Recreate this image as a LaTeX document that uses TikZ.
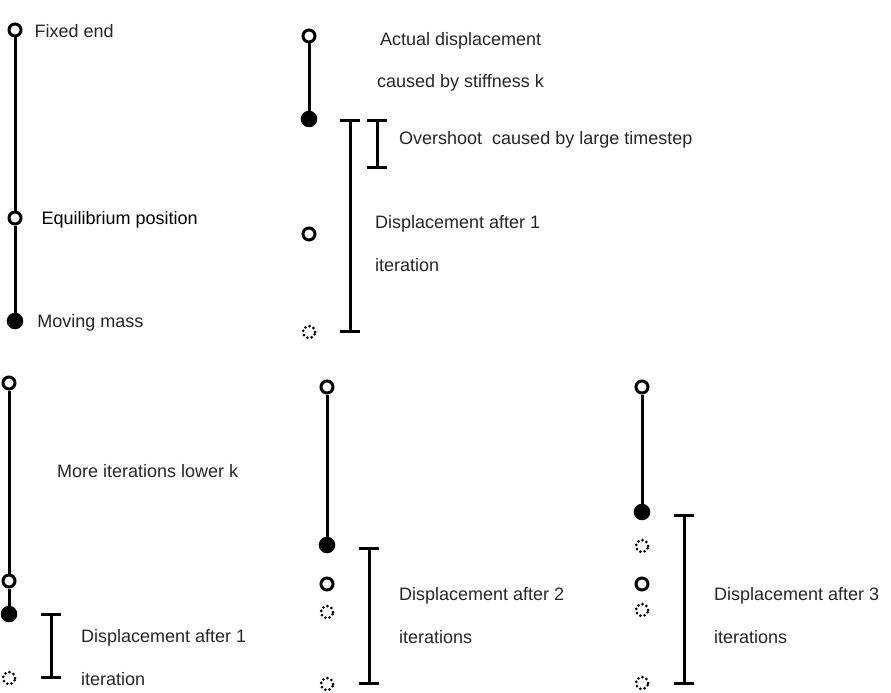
\documentclass[tikz,border=0pt]{standalone}
\usepackage{fontspec}
\setmainfont{Liberation Sans}
\usetikzlibrary{positioning,arrows.meta}

\begin{document}
\begin{tikzpicture}[
  x=1pt,y=-1pt,
  every node/.style={font=\fontsize{18}{22}\selectfont},
  ring/.style={draw,circle,line width=3pt,fill=white,minimum size=12pt,inner sep=0pt},
  mass/.style={draw,circle,fill=black,line width=1pt,minimum size=15.5pt,inner sep=0pt},
  ghost/.style={draw,circle,line width=3pt,dash pattern=on 0pt off 4.4pt,line cap=round,minimum size=12pt,inner sep=0pt},
  rod/.style={line width=3pt},
  span/.style={line width=3pt,{Bar[width=20pt]}-{Bar[width=20pt]}},
  lbl/.style={anchor=west,inner sep=0pt,yshift=-1.5pt,text=black!85}
]
\useasboundingbox (0,0) rectangle (891,693);
% spring at rest
\node[ring] (fixA) at (15,30) {};
\node[ring] (eqA) at (15,218) {};
\node[mass] (massA) at (15,321) {};
\draw[rod] (fixA)--(eqA);
\draw[rod] (eqA)--(massA);
\node[lbl,right=12pt of fixA] (fixAtxt) {Fixed end};
\node[lbl,right=19pt of eqA,text=black] (eqAtxt) {Equilibrium position};
\node[lbl,right=14pt of massA] (massAtxt) {Moving mass};
% one large step
\node[ring] (fixB) at (309,36) {};
\node[mass] (massB) at (309,119) {};
\node[ring] (eqB) at (309,234) {};
\node[ghost] (ghostB) at (309,332) {};
\draw[rod] (fixB)--(massB);
\coordinate (spBtop) at (350,119);
\coordinate (spBbot) at (350,333);
\draw[span] (spBtop)--(spBbot);
\coordinate (ovBtop) at (377,119);
\coordinate (ovBbot) at (377,169);
\draw[span] (ovBtop)--(ovBbot);
\node[lbl] (actB1) at (380,39) {Actual displacement};
\node[lbl] (actB2) at (377,81) {caused by stiffness k};
\node[lbl] (ovBtxt) at (399,138) {Overshoot\ \ caused by large timestep};
\node[lbl] (dispB1) at (375,222) {Displacement after 1};
\node[lbl] (dispB2) at (375,264) {iteration};
% lower k, iteration 1
\node[ring] (fixC) at (9,383) {};
\node[ring] (eqC) at (9,581) {};
\node[mass] (massC) at (9,614) {};
\node[ghost] (ghostC) at (9,678) {};
\draw[rod] (fixC)--(eqC);
\draw[rod] (eqC)--(massC);
\coordinate (spCtop) at (51,613);
\coordinate (spCbot) at (51,679);
\draw[span] (spCtop)--(spCbot);
\node[lbl] (moreC) at (57,470) {More iterations lower k};
\node[lbl] (dispC1) at (81,636) {Displacement after 1};
\node[lbl] (dispC2) at (81,678) {iteration};
% lower k, iteration 2
\node[ring] (fixD) at (327,387) {};
\node[mass] (massD) at (327,545) {};
\node[ring] (eqD) at (327,584) {};
\node[ghost] (ghostD1) at (327,612) {};
\node[ghost] (ghostD2) at (327,684) {};
\draw[rod] (fixD)--(massD);
\coordinate (spDtop) at (369,547);
\coordinate (spDbot) at (369,685);
\draw[span] (spDtop)--(spDbot);
\node[lbl] (dispD1) at (399,594) {Displacement after 2};
\node[lbl] (dispD2) at (399,636) {iterations};
% lower k, iteration 3
\node[ring] (fixE) at (642,387) {};
\node[mass] (massE) at (642,512) {};
\node[ghost] (ghostE1) at (642,546) {};
\node[ring] (eqE) at (642,584) {};
\node[ghost] (ghostE2) at (642,610) {};
\node[ghost] (ghostE3) at (642,683) {};
\draw[rod] (fixE)--(massE);
\coordinate (spEtop) at (684,514);
\coordinate (spEbot) at (684,685);
\draw[span] (spEtop)--(spEbot);
\node[lbl] (dispE1) at (714,594) {Displacement after 3};
\node[lbl] (dispE2) at (714,636) {iterations};
\end{tikzpicture}
\end{document}
